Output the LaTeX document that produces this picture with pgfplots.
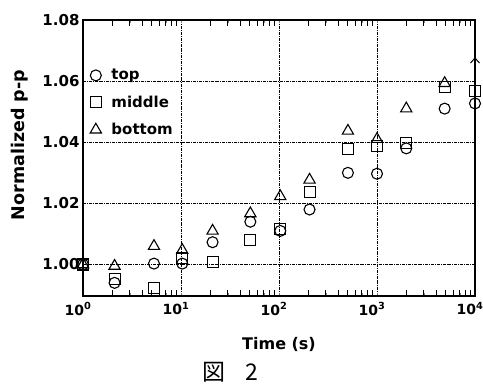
\documentclass[border=0pt]{standalone}
\usepackage{pgfplots}
\pgfplotsset{compat=1.18}
\usetikzlibrary{arrows.meta}
\usepackage{fontspec}
\setmainfont{DejaVu Sans}
\newfontfamily\cjk{Noto Sans CJK JP}
\begin{document}
\begin{tikzpicture}
\begin{axis}[
  scale only axis,
  width=392pt, height=276pt,
  xmode=log,
  xmin=1, xmax=10000,
  xtick={1,10,100,1000,10000},
  xticklabels={10\textsuperscript{0},10\textsuperscript{1},10\textsuperscript{2},10\textsuperscript{3},10\textsuperscript{4}},
  ymin=0.9897, ymax=1.08,
  ytick={1.00,1.02,1.04,1.06,1.08},
  yticklabels={1.00,1.02,1.04,1.06,1.08},
  /pgf/number format/assume math mode=true,
  tick label style={font=\fontsize{15}{17}\selectfont\bfseries},
  xticklabel style={font=\fontsize{14}{16}\selectfont\bfseries, yshift=-3pt, xshift=-5pt},
  tick align=inside,
  major tick length=0pt,
  grid=major,
  major grid style={black, line width=0.6pt, dash pattern=on 3pt off 1pt on 0.8pt off 1pt},
  axis line style={line width=1.3pt},
  xlabel={Time (s)},
  ylabel={Normalized p-p},
  xlabel style={font=\fontsize{16}{18}\selectfont\bfseries, at={(axis description cs:0.5,-0.177)}, anchor=center},
  ylabel style={font=\fontsize{17.5}{19}\selectfont\bfseries, at={(axis description cs:-0.161,0.547)}, anchor=center},
  clip=false,
  unbounded coords=jump,
  legend style={at={(axis description cs:0.0,0.70)}, anchor=west, xshift=4pt, draw=none, fill=none,
    font=\fontsize{15}{17}\selectfont\bfseries, row sep=10.5pt,
    /tikz/every odd column/.append style={column sep=8pt}},
  legend cell align=left,
]
\addplot[only marks, mark=o, mark size=5.5pt, line width=1.1pt] coordinates {
 (1,1.000) (2.1,0.994) (5.3,1.0003) (10.3,1.0003) (21,1.0073) (51,1.014)
 (103,1.011) (205,1.018) (505,1.030) (1000,1.0297) (1990,1.038) (4900,1.051) (10000,1.0527)};
\addlegendentry{top}
\addplot[only marks, mark=square, mark size=5.5pt, line width=1.1pt] coordinates {
 (1,1.000) (2.1,0.9953) (5.3,0.9923) (10.3,1.002) (21,1.0007) (51,1.008)
 (103,1.0117) (205,1.0237) (505,1.0377) (1000,1.0387) (1990,1.0397) (4900,1.058) (10000,1.0567)};
\addlegendentry{middle}
\addplot[only marks, mark=triangle, mark size=6.5pt, line width=1.1pt] coordinates {
 (1,1.000) (2.1,0.9995) (5.3,1.006) (10.3,1.0047) (21,1.011) (51,1.0167)
 (103,1.0223) (205,1.0277) (505,1.0437) (1000,1.041) (1990,1.051) (4900,1.0593)};
\addlegendentry{bottom}
\addplot[-{Straight Barb[length=5pt,width=9pt]}, line width=1pt, forget plot] coordinates {(10000,1.0585) (10000,1.0678)};
% minor ticks on bottom edge
\addplot[forget plot, black, line width=0.9pt, no marks] coordinates {
 (2,0.9897) (2,0.9917) (2,nan) (3,0.9897) (3,0.9917) (3,nan) (4,0.9897) (4,0.9917) (4,nan)
 (5,0.9897) (5,0.9917) (5,nan) (6,0.9897) (6,0.9917) (6,nan) (7,0.9897) (7,0.9917) (7,nan)
 (8,0.9897) (8,0.9917) (8,nan) (9,0.9897) (9,0.9917) (9,nan)
 (20,0.9897) (20,0.9917) (20,nan) (30,0.9897) (30,0.9917) (30,nan) (40,0.9897) (40,0.9917) (40,nan)
 (50,0.9897) (50,0.9917) (50,nan) (60,0.9897) (60,0.9917) (60,nan) (70,0.9897) (70,0.9917) (70,nan)
 (80,0.9897) (80,0.9917) (80,nan) (90,0.9897) (90,0.9917) (90,nan)
 (200,0.9897) (200,0.9917) (200,nan) (300,0.9897) (300,0.9917) (300,nan) (400,0.9897) (400,0.9917) (400,nan)
 (500,0.9897) (500,0.9917) (500,nan) (600,0.9897) (600,0.9917) (600,nan) (700,0.9897) (700,0.9917) (700,nan)
 (800,0.9897) (800,0.9917) (800,nan) (900,0.9897) (900,0.9917) (900,nan)
 (2000,0.9897) (2000,0.9917) (2000,nan) (3000,0.9897) (3000,0.9917) (3000,nan) (4000,0.9897) (4000,0.9917) (4000,nan)
 (5000,0.9897) (5000,0.9917) (5000,nan) (6000,0.9897) (6000,0.9917) (6000,nan) (7000,0.9897) (7000,0.9917) (7000,nan)
 (8000,0.9897) (8000,0.9917) (8000,nan) (9000,0.9897) (9000,0.9917)};
% minor ticks on top edge
\addplot[forget plot, black, line width=0.9pt, no marks] coordinates {
 (2,1.08) (2,1.078) (2,nan) (3,1.08) (3,1.078) (3,nan) (4,1.08) (4,1.078) (4,nan)
 (5,1.08) (5,1.078) (5,nan) (6,1.08) (6,1.078) (6,nan) (7,1.08) (7,1.078) (7,nan)
 (8,1.08) (8,1.078) (8,nan) (9,1.08) (9,1.078) (9,nan)
 (20,1.08) (20,1.078) (20,nan) (30,1.08) (30,1.078) (30,nan) (40,1.08) (40,1.078) (40,nan)
 (50,1.08) (50,1.078) (50,nan) (60,1.08) (60,1.078) (60,nan) (70,1.08) (70,1.078) (70,nan)
 (80,1.08) (80,1.078) (80,nan) (90,1.08) (90,1.078) (90,nan)
 (200,1.08) (200,1.078) (200,nan) (300,1.08) (300,1.078) (300,nan) (400,1.08) (400,1.078) (400,nan)
 (500,1.08) (500,1.078) (500,nan) (600,1.08) (600,1.078) (600,nan) (700,1.08) (700,1.078) (700,nan)
 (800,1.08) (800,1.078) (800,nan) (900,1.08) (900,1.078) (900,nan)
 (2000,1.08) (2000,1.078) (2000,nan) (3000,1.08) (3000,1.078) (3000,nan) (4000,1.08) (4000,1.078) (4000,nan)
 (5000,1.08) (5000,1.078) (5000,nan) (6000,1.08) (6000,1.078) (6000,nan) (7000,1.08) (7000,1.078) (7000,nan)
 (8000,1.08) (8000,1.078) (8000,nan) (9000,1.08) (9000,1.078)};
\node[font=\cjk\fontsize{23}{25}\selectfont] at (axis description cs:0.376,-0.275) {図\hspace{0.9em}2};
\end{axis}
\pgfresetboundingbox
\path (-83pt,-92pt) rectangle (400pt,296pt);
\end{tikzpicture}
\end{document}
